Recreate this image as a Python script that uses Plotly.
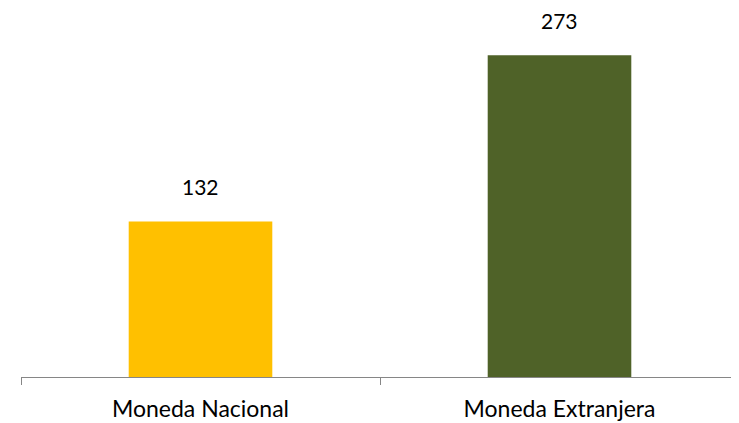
import plotly.graph_objects as go

categories = ["Moneda Nacional", "Moneda Extranjera"]
values = [132, 273]
colors = ["#FFC000", "#4F6228"]

fig = go.Figure(go.Bar(x=categories, y=values, marker=dict(color=colors, line=dict(width=0)),
                       width=0.4, hoverinfo="skip"))

for c, v in zip(categories, values):
    fig.add_annotation(x=c, y=v, text=str(v), showarrow=False, yanchor="middle", yshift=35,
                       font=dict(family="Lato, Open Sans, sans-serif", size=21, color="#000000"))

fig.update_layout(
    width=731, height=415,
    margin=dict(l=13, r=0, t=0, b=46),
    paper_bgcolor="white", plot_bgcolor="white",
    showlegend=False,
    font=dict(family="Lato, Open Sans, sans-serif", size=23, color="#000000"),
)
fig.update_xaxes(showline=True, linecolor="#868686", linewidth=1, ticks="outside", tickson="boundaries",
                 ticklen=7, tickcolor="#868686", showgrid=False, range=[-0.5, 1.5],
                 ticklabelstandoff=11, automargin=False)
fig.update_yaxes(visible=False, range=[0, 313], showgrid=False)

fig.write_html("out.html")
